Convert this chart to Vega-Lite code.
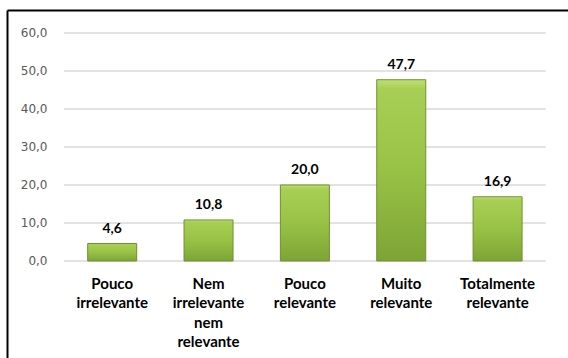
{
  "$schema": "https://vega.github.io/schema/vega-lite/v6.json",
  "autosize": {"type": "none"},
  "padding": {"left": 7, "top": 10, "right": 0, "bottom": 0},
  "width": 561,
  "height": 348,
  "background": "#ffffff",
  "config": {
    "view": {"stroke": null},
    "locale": {
      "number": {"decimal": ",", "thousands": ".", "grouping": [3], "currency": ["R$ ", ""]}
    }
  },
  "data": {
    "values": [
      {"indice": 0, "categoria": "Pouco irrelevante", "valor": 4.6},
      {"indice": 1, "categoria": "Nem irrelevante nem relevante", "valor": 10.8},
      {"indice": 2, "categoria": "Pouco relevante", "valor": 20.0},
      {"indice": 3, "categoria": "Muito relevante", "valor": 47.7},
      {"indice": 4, "categoria": "Totalmente relevante", "valor": 16.9}
    ]
  },
  "layer": [
    {
      "data": {"values": [{"marca": 0}, {"marca": 10}, {"marca": 20}, {"marca": 30}, {"marca": 40}, {"marca": 50}, {"marca": 60}]},
      "mark": {"type": "rule", "color": "#d9d9d9", "strokeWidth": 1.5},
      "encoding": {
        "x": {"datum": -0.5, "type": "quantitative", "title": null},
        "x2": {"datum": 4.5},
        "y": {"field": "marca", "type": "quantitative", "title": null}
      }
    },
    {
      "mark": {
        "type": "bar",
        "orient": "vertical",
        "width": 49,
        "stroke": "#6f912d",
        "strokeWidth": 1,
        "color": {
          "gradient": "linear",
          "x1": 0, "y1": 0, "x2": 0, "y2": 1,
          "stops": [
            {"offset": 0, "color": "#c0e070"},
            {"offset": 0.05, "color": "#a8cf55"},
            {"offset": 0.5, "color": "#98c245"},
            {"offset": 1, "color": "#7da436"}
          ]
        }
      },
      "encoding": {
        "x": {
          "field": "indice",
          "type": "quantitative",
          "title": null,
          "scale": {"domain": [-1.04, 4.679], "nice": false, "zero": false},
          "axis": {
            "orient": "top",
            "labels": false,
            "ticks": false,
            "grid": false,
            "domain": true,
            "domainColor": "#000000",
            "domainWidth": 2
          }
        },
        "y": {
          "field": "valor",
          "type": "quantitative",
          "title": null,
          "scale": {"domain": [-25.53, 66.05], "nice": false, "zero": false},
          "axis": {
            "orient": "left",
            "values": [0, 10, 20, 30, 40, 50, 60],
            "format": ".1f",
            "ticks": false,
            "grid": false,
            "domain": true,
            "domainColor": "#000000",
            "domainWidth": 2,
            "labelPadding": -40,
            "labelAlign": "right",
            "labelBaseline": "middle",
            "labelFont": "DejaVu Sans",
            "labelFontSize": 12,
            "labelColor": "#595959"
          }
        }
      }
    },
    {
      "mark": {
        "type": "text",
        "font": "Lato",
        "fontWeight": "bold",
        "fontSize": 14,
        "color": "#000000",
        "baseline": "alphabetic",
        "dy": -11
      },
      "encoding": {
        "x": {"field": "indice", "type": "quantitative", "title": null},
        "y": {"field": "valor", "type": "quantitative", "title": null},
        "text": {"field": "valor", "type": "quantitative", "format": ".1f"}
      }
    },
    {
      "mark": {
        "type": "text",
        "font": "Lato",
        "fontWeight": "bold",
        "fontSize": 15,
        "color": "#000000",
        "baseline": "alphabetic",
        "lineBreak": " ",
        "lineHeight": 19.5,
        "dy": 28
      },
      "encoding": {
        "x": {"field": "indice", "type": "quantitative", "title": null},
        "y": {"datum": 0, "type": "quantitative"},
        "text": {"field": "categoria", "type": "nominal"}
      }
    }
  ]
}
